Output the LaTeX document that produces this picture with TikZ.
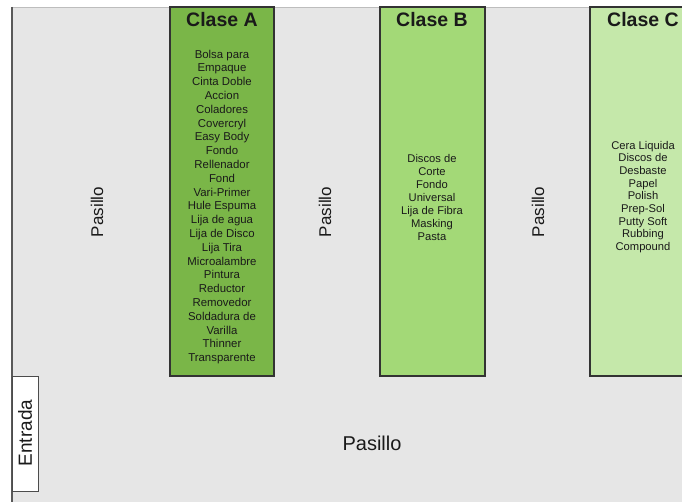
\documentclass[tikz,border=0pt]{standalone}
\usepackage{fontspec}
\setmainfont{Liberation Sans}
\definecolor{verdeA}{HTML}{7AB648}
\definecolor{verdeB}{HTML}{A3D977}
\definecolor{verdeC}{HTML}{C5E8AA}
\definecolor{piso}{HTML}{E6E6E6}
\definecolor{texto}{HTML}{1A1A1A}
\tikzset{
	titulo/.style={font=\bfseries\fontsize{19.5}{22}\selectfont,text=texto,anchor=base,inner sep=0},
	lista/.style={font=\fontsize{11.2}{13.4}\selectfont,text=texto,align=center,inner sep=0},
	pasillo/.style={font=\fontsize{17}{20}\selectfont,text=texto,inner sep=0}
}
\begin{document}
\begin{tikzpicture}[x=1pt,y=-1pt]
		\useasboundingbox (0,0) rectangle (682,502);
		\fill[white] (0,0) rectangle (682,502);
		\draw[piso!60!gray,fill=piso,line width=0.8] (12,7) rectangle (700,520);
		\draw[black!65,line width=1.2] (12,7) -- (12,502);
		
		% estantes
		\draw[black!80,fill=verdeA,line width=1.2] (170,7) rectangle (274,376);
		\draw[black!80,fill=verdeB,line width=1.2] (380,7) rectangle (485,376);
		\draw[black!80,fill=verdeC,line width=1.2] (590,7) rectangle (700,376);
		
		\draw (222,27) node[titulo] (tituloA) {Clase A};
		\draw (432,27) node[titulo] (tituloB) {Clase B};
		\draw (643,27) node[titulo] (tituloC) {Clase C};
		
		\draw (222,207) node[lista,font=\fontsize{11.4}{13.8}\selectfont] (listaA) {Bolsa para\\Empaque\\Cinta Doble\\Accion\\Coladores\\Covercryl\\Easy Body\\Fondo\\Rellenador\\Fond\\Vari-Primer\\Hule Espuma\\Lija de agua\\Lija de Disco\\Lija Tira\\Microalambre\\Pintura\\Reductor\\Removedor\\Soldadura de\\Varilla\\Thinner\\Transparente};
		\draw (432,197) node[lista,font=\fontsize{11.2}{13}\selectfont] (listaB) {Discos de\\Corte\\Fondo\\Universal\\Lija de Fibra\\Masking\\Pasta};
		\draw (643,197) node[lista,font=\fontsize{11.2}{12.7}\selectfont] (listaC) {Cera Liquida\\Discos de\\Desbaste\\Papel\\Polish\\Prep-Sol\\Putty Soft\\Rubbing\\Compound};
		
		% pasillos
		\draw (97,212) node[pasillo,rotate=90] (pasillo1) {Pasillo};
		\draw (325,212) node[pasillo,rotate=90] (pasillo2) {Pasillo};
		\draw (538,212) node[pasillo,rotate=90] (pasillo3) {Pasillo};
		\draw (372,443) node[pasillo,font=\fontsize{20}{24}\selectfont] (pasillo4) {Pasillo};
		
		% entrada
		\draw[black!70,fill=white,line width=0.9] (12,376) rectangle (38,491);
		\draw (25,433) node[pasillo,rotate=90,font=\fontsize{19}{22}\selectfont] (entrada) {Entrada};
	\end{tikzpicture}
\end{document}
